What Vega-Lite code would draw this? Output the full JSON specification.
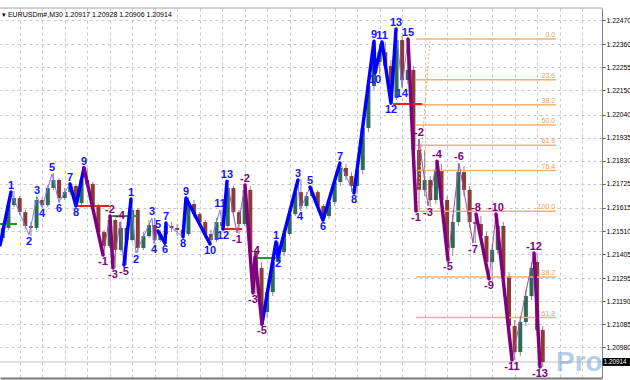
{
"$schema": "https://vega.github.io/schema/vega-lite/v6.json",
"width": 602, "height": 370,
"autosize": {"type": "none"},
"padding": {"left": 0, "top": 8, "right": 28, "bottom": 2},
"background": "#ffffff",
"config": {"view": {"stroke": null}, "font": "Liberation Sans", "axis": {"labelOverlap": false, "labelBound": false}},
"datasets": {
"candles": [
{"b":-6,"o":1.21478,"h":1.21542,"l":1.21460,"c":1.21524},
{"b":-4,"o":1.21524,"h":1.21651,"l":1.21515,"c":1.21628},
{"b":-2,"o":1.21628,"h":1.21692,"l":1.21619,"c":1.21660},
{"b":0,"o":1.21660,"h":1.21669,"l":1.21583,"c":1.21596},
{"b":2,"o":1.21596,"h":1.21606,"l":1.21519,"c":1.21533},
{"b":4,"o":1.21533,"h":1.21551,"l":1.21487,"c":1.21524},
{"b":6,"o":1.21524,"h":1.21669,"l":1.21515,"c":1.21651},
{"b":8,"o":1.21651,"h":1.21665,"l":1.21615,"c":1.21628},
{"b":10,"o":1.21628,"h":1.21719,"l":1.21619,"c":1.21706},
{"b":12,"o":1.21706,"h":1.21774,"l":1.21697,"c":1.21742},
{"b":14,"o":1.21742,"h":1.21751,"l":1.21637,"c":1.21660},
{"b":16,"o":1.21660,"h":1.21706,"l":1.21651,"c":1.21687},
{"b":18,"o":1.21687,"h":1.21728,"l":1.21674,"c":1.21715},
{"b":20,"o":1.21715,"h":1.21724,"l":1.21619,"c":1.21637},
{"b":22,"o":1.21637,"h":1.21760,"l":1.21624,"c":1.21742},
{"b":24,"o":1.21742,"h":1.21797,"l":1.21706,"c":1.21724},
{"b":26,"o":1.21724,"h":1.21733,"l":1.21596,"c":1.21619},
{"b":28,"o":1.21619,"h":1.21633,"l":1.21483,"c":1.21505},
{"b":30,"o":1.21505,"h":1.21515,"l":1.21401,"c":1.21442},
{"b":32,"o":1.21442,"h":1.21583,"l":1.21433,"c":1.21560},
{"b":34,"o":1.21560,"h":1.21569,"l":1.21342,"c":1.21424},
{"b":36,"o":1.21424,"h":1.21555,"l":1.21414,"c":1.21524},
{"b":38,"o":1.21524,"h":1.21533,"l":1.21355,"c":1.21469},
{"b":40,"o":1.21469,"h":1.21656,"l":1.21460,"c":1.21606},
{"b":42,"o":1.21606,"h":1.21615,"l":1.21410,"c":1.21433},
{"b":44,"o":1.21433,"h":1.21505,"l":1.21424,"c":1.21487},
{"b":46,"o":1.21487,"h":1.21560,"l":1.21478,"c":1.21537},
{"b":48,"o":1.21537,"h":1.21572,"l":1.21451,"c":1.21469},
{"b":50,"o":1.21469,"h":1.21515,"l":1.21460,"c":1.21496},
{"b":52,"o":1.21496,"h":1.21551,"l":1.21451,"c":1.21533},
{"b":54,"o":1.21533,"h":1.21551,"l":1.21505,"c":1.21524},
{"b":56,"o":1.21524,"h":1.21542,"l":1.21487,"c":1.21515},
{"b":58,"o":1.21515,"h":1.21533,"l":1.21478,"c":1.21496},
{"b":60,"o":1.21496,"h":1.21665,"l":1.21487,"c":1.21633},
{"b":62,"o":1.21633,"h":1.21651,"l":1.21569,"c":1.21587},
{"b":64,"o":1.21587,"h":1.21596,"l":1.21533,"c":1.21551},
{"b":66,"o":1.21551,"h":1.21560,"l":1.21478,"c":1.21496},
{"b":68,"o":1.21496,"h":1.21515,"l":1.21446,"c":1.21469},
{"b":70,"o":1.21469,"h":1.21569,"l":1.21460,"c":1.21551},
{"b":72,"o":1.21551,"h":1.21610,"l":1.21515,"c":1.21533},
{"b":74,"o":1.21533,"h":1.21740,"l":1.21524,"c":1.21706},
{"b":76,"o":1.21706,"h":1.21715,"l":1.21578,"c":1.21596},
{"b":78,"o":1.21596,"h":1.21606,"l":1.21496,"c":1.21542},
{"b":80,"o":1.21542,"h":1.21724,"l":1.21533,"c":1.21697},
{"b":82,"o":1.21697,"h":1.21715,"l":1.21387,"c":1.21414},
{"b":84,"o":1.21414,"h":1.21424,"l":1.21223,"c":1.21342},
{"b":86,"o":1.21342,"h":1.21369,"l":1.21082,"c":1.21141},
{"b":88,"o":1.21141,"h":1.21251,"l":1.21114,"c":1.21232},
{"b":90,"o":1.21232,"h":1.21387,"l":1.21214,"c":1.21369},
{"b":92,"o":1.21369,"h":1.21460,"l":1.21360,"c":1.21414},
{"b":94,"o":1.21414,"h":1.21515,"l":1.21396,"c":1.21496},
{"b":96,"o":1.21496,"h":1.21615,"l":1.21487,"c":1.21587},
{"b":98,"o":1.21587,"h":1.21706,"l":1.21578,"c":1.21687},
{"b":100,"o":1.21687,"h":1.21747,"l":1.21601,"c":1.21624},
{"b":102,"o":1.21624,"h":1.21687,"l":1.21615,"c":1.21669},
{"b":104,"o":1.21669,"h":1.21715,"l":1.21660,"c":1.21687},
{"b":106,"o":1.21687,"h":1.21697,"l":1.21606,"c":1.21624},
{"b":108,"o":1.21624,"h":1.21633,"l":1.21555,"c":1.21578},
{"b":110,"o":1.21578,"h":1.21660,"l":1.21565,"c":1.21642},
{"b":112,"o":1.21642,"h":1.21751,"l":1.21624,"c":1.21733},
{"b":114,"o":1.21733,"h":1.21824,"l":1.21715,"c":1.21797},
{"b":116,"o":1.21797,"h":1.21815,"l":1.21742,"c":1.21760},
{"b":118,"o":1.21760,"h":1.21778,"l":1.21687,"c":1.21715},
{"b":120,"o":1.21715,"h":1.21806,"l":1.21678,"c":1.21788},
{"b":122,"o":1.21788,"h":1.21997,"l":1.21769,"c":1.21979},
{"b":124,"o":1.21979,"h":1.22197,"l":1.21960,"c":1.22170},
{"b":126,"o":1.22170,"h":1.22379,"l":1.22152,"c":1.22279},
{"b":128,"o":1.22279,"h":1.22361,"l":1.22224,"c":1.22324},
{"b":130,"o":1.22324,"h":1.22370,"l":1.22243,"c":1.22261},
{"b":132,"o":1.22261,"h":1.22288,"l":1.22088,"c":1.22115},
{"b":134,"o":1.22115,"h":1.22434,"l":1.22106,"c":1.22379},
{"b":136,"o":1.22379,"h":1.22397,"l":1.22161,"c":1.22197},
{"b":138,"o":1.22197,"h":1.22384,"l":1.22179,"c":1.22243},
{"b":140,"o":1.22243,"h":1.22261,"l":1.21842,"c":1.21879},
{"b":142,"o":1.21879,"h":1.21929,"l":1.21601,"c":1.21697},
{"b":144,"o":1.21697,"h":1.21879,"l":1.21669,"c":1.21742},
{"b":146,"o":1.21742,"h":1.21760,"l":1.21619,"c":1.21651},
{"b":148,"o":1.21651,"h":1.21824,"l":1.21633,"c":1.21788},
{"b":150,"o":1.21788,"h":1.21815,"l":1.21624,"c":1.21651},
{"b":152,"o":1.21651,"h":1.21669,"l":1.21378,"c":1.21433},
{"b":154,"o":1.21433,"h":1.21587,"l":1.21396,"c":1.21551},
{"b":156,"o":1.21551,"h":1.21815,"l":1.21533,"c":1.21778},
{"b":158,"o":1.21778,"h":1.21806,"l":1.21669,"c":1.21697},
{"b":160,"o":1.21697,"h":1.21715,"l":1.21524,"c":1.21551},
{"b":162,"o":1.21551,"h":1.21587,"l":1.21455,"c":1.21542},
{"b":164,"o":1.21542,"h":1.21578,"l":1.21469,"c":1.21487},
{"b":166,"o":1.21487,"h":1.21505,"l":1.21333,"c":1.21369},
{"b":168,"o":1.21369,"h":1.21451,"l":1.21292,"c":1.21424},
{"b":170,"o":1.21424,"h":1.21587,"l":1.21405,"c":1.21533},
{"b":172,"o":1.21533,"h":1.21551,"l":1.21269,"c":1.21305},
{"b":174,"o":1.21305,"h":1.21323,"l":1.21023,"c":1.21078},
{"b":176,"o":1.21078,"h":1.21105,"l":1.20923,"c":1.20959},
{"b":178,"o":1.20959,"h":1.21123,"l":1.20941,"c":1.21096},
{"b":180,"o":1.21096,"h":1.21242,"l":1.21078,"c":1.21214},
{"b":182,"o":1.21214,"h":1.21369,"l":1.21196,"c":1.21342},
{"b":184,"o":1.21369,"h":1.21410,"l":1.21032,"c":1.21060},
{"b":186,"o":1.21060,"h":1.21078,"l":1.20891,"c":1.20914}
],
"pivots": [
{"t":"1","k":"pos","v":"hi","b":-3.09,"p":1.21687},
{"t":"2","k":"pos","v":"lo","b":3.31,"p":1.21492},
{"t":"3","k":"pos","v":"hi","b":6.16,"p":1.21665},
{"t":"4","k":"pos","v":"lo","b":7.94,"p":1.21619},
{"t":"5","k":"pos","v":"hi","b":11.49,"p":1.21769},
{"t":"6","k":"pos","v":"lo","b":13.98,"p":1.21642},
{"t":"7","k":"pos","v":"hi","b":17.89,"p":1.21724},
{"t":"8","k":"pos","v":"lo","b":20.03,"p":1.21624},
{"t":"9","k":"pos","v":"hi","b":22.87,"p":1.21797},
{"t":"-1","k":"neg","v":"lo","b":29.63,"p":1.21401},
{"t":"-2","k":"neg","v":"hi","b":32.12,"p":1.21578},
{"t":"-3","k":"neg","v":"lo","b":33.18,"p":1.21342},
{"t":"-4","k":"neg","v":"hi","b":35.67,"p":1.21551},
{"t":"-5","k":"neg","v":"lo","b":37.09,"p":1.21355},
{"t":"1","k":"pos","v":"hi","b":39.58,"p":1.21656},
{"t":"2","k":"pos","v":"lo","b":41.36,"p":1.21410},
{"t":"3","k":"pos","v":"hi","b":47.05,"p":1.21569},
{"t":"4","k":"pos","v":"lo","b":47.76,"p":1.21455},
{"t":"5","k":"pos","v":"hi","b":49.18,"p":1.21510},
{"t":"6","k":"pos","v":"lo","b":51.67,"p":1.21455},
{"t":"7","k":"pos","v":"hi","b":52.03,"p":1.21546},
{"t":"8","k":"pos","v":"lo","b":58.07,"p":1.21483},
{"t":"9","k":"pos","v":"hi","b":59.14,"p":1.21660},
{"t":"10","k":"pos","v":"lo","b":67.68,"p":1.21451},
{"t":"11","k":"pos","v":"hi","b":71.23,"p":1.21606},
{"t":"12","k":"pos","v":"lo","b":72.30,"p":1.21519},
{"t":"13","k":"pos","v":"hi","b":73.72,"p":1.21737},
{"t":"-1","k":"neg","v":"lo","b":77.28,"p":1.21501},
{"t":"-2","k":"neg","v":"hi","b":80.12,"p":1.21719},
{"t":"-3","k":"neg","v":"lo","b":82.97,"p":1.21228},
{"t":"-4","k":"neg","v":"hi","b":83.68,"p":1.21392},
{"t":"-5","k":"neg","v":"lo","b":86.17,"p":1.21087},
{"t":"1","k":"pos","v":"hi","b":91.15,"p":1.21460},
{"t":"2","k":"pos","v":"lo","b":91.86,"p":1.21392},
{"t":"3","k":"pos","v":"hi","b":98.97,"p":1.21742},
{"t":"4","k":"pos","v":"lo","b":99.68,"p":1.21606},
{"t":"5","k":"pos","v":"hi","b":103.24,"p":1.21710},
{"t":"6","k":"pos","v":"lo","b":107.86,"p":1.21560},
{"t":"7","k":"pos","v":"hi","b":113.90,"p":1.21819},
{"t":"8","k":"pos","v":"lo","b":118.88,"p":1.21683},
{"t":"9","k":"pos","v":"hi","b":125.99,"p":1.22374},
{"t":"10","k":"pos","v":"lo","b":126.35,"p":1.22229},
{"t":"11","k":"pos","v":"hi","b":128.84,"p":1.22370},
{"t":"12","k":"pos","v":"lo","b":132.04,"p":1.22092},
{"t":"13","k":"pos","v":"hi","b":133.82,"p":1.22429},
{"t":"14","k":"pos","v":"lo","b":135.95,"p":1.22165},
{"t":"15","k":"pos","v":"hi","b":138.08,"p":1.22384},
{"t":"-1","k":"neg","v":"lo","b":140.93,"p":1.21601},
{"t":"-2","k":"neg","v":"hi","b":142.00,"p":1.21929},
{"t":"-3","k":"neg","v":"lo","b":145.20,"p":1.21624},
{"t":"-4","k":"neg","v":"hi","b":148.40,"p":1.21828},
{"t":"-5","k":"neg","v":"lo","b":152.31,"p":1.21378},
{"t":"-6","k":"neg","v":"hi","b":156.22,"p":1.21819},
{"t":"-7","k":"neg","v":"lo","b":161.20,"p":1.21455},
{"t":"-8","k":"neg","v":"hi","b":162.27,"p":1.21587},
{"t":"-9","k":"neg","v":"lo","b":166.89,"p":1.21292},
{"t":"-10","k":"neg","v":"hi","b":169.38,"p":1.21587},
{"t":"-11","k":"neg","v":"lo","b":175.07,"p":1.20923},
{"t":"-12","k":"neg","v":"hi","b":182.89,"p":1.21410},
{"t":"-13","k":"neg","v":"lo","b":185.02,"p":1.20891}
],
"thin": [
{"g":"T1","k":"pos","b":-7,"p":1.21446},{"g":"T1","k":"pos","b":-3.09,"p":1.21687},{"g":"T1","k":"pos","b":3.31,"p":1.21492},{"g":"T1","k":"pos","b":6.16,"p":1.21665},{"g":"T1","k":"pos","b":7.94,"p":1.21619},{"g":"T1","k":"pos","b":11.49,"p":1.21769},{"g":"T1","k":"pos","b":13.98,"p":1.21642},{"g":"T1","k":"pos","b":17.89,"p":1.21724},{"g":"T1","k":"pos","b":20.03,"p":1.21624},{"g":"T1","k":"pos","b":22.87,"p":1.21797},
{"g":"T2","k":"neg","b":22.87,"p":1.21797},{"g":"T2","k":"neg","b":29.63,"p":1.21401},{"g":"T2","k":"neg","b":32.12,"p":1.21578},{"g":"T2","k":"neg","b":33.18,"p":1.21342},{"g":"T2","k":"neg","b":35.67,"p":1.21551},{"g":"T2","k":"neg","b":37.09,"p":1.21355},
{"g":"T3","k":"pos","b":37.09,"p":1.21355},{"g":"T3","k":"pos","b":39.58,"p":1.21656},{"g":"T3","k":"pos","b":41.36,"p":1.21410},{"g":"T3","k":"pos","b":47.05,"p":1.21569},{"g":"T3","k":"pos","b":47.76,"p":1.21455},{"g":"T3","k":"pos","b":49.18,"p":1.21510},{"g":"T3","k":"pos","b":51.67,"p":1.21455},{"g":"T3","k":"pos","b":52.03,"p":1.21546},{"g":"T3","k":"pos","b":58.07,"p":1.21483},{"g":"T3","k":"pos","b":59.14,"p":1.21660},{"g":"T3","k":"pos","b":67.68,"p":1.21451},{"g":"T3","k":"pos","b":71.23,"p":1.21606},{"g":"T3","k":"pos","b":72.30,"p":1.21519},{"g":"T3","k":"pos","b":73.72,"p":1.21737},
{"g":"T4","k":"neg","b":73.72,"p":1.21737},{"g":"T4","k":"neg","b":77.28,"p":1.21501},{"g":"T4","k":"neg","b":80.12,"p":1.21719},{"g":"T4","k":"neg","b":82.97,"p":1.21228},{"g":"T4","k":"neg","b":83.68,"p":1.21392},{"g":"T4","k":"neg","b":86.17,"p":1.21087},
{"g":"T5","k":"pos","b":86.17,"p":1.21087},{"g":"T5","k":"pos","b":91.15,"p":1.21460},{"g":"T5","k":"pos","b":91.86,"p":1.21392},{"g":"T5","k":"pos","b":98.97,"p":1.21742},{"g":"T5","k":"pos","b":99.68,"p":1.21606},{"g":"T5","k":"pos","b":103.24,"p":1.21710},{"g":"T5","k":"pos","b":107.86,"p":1.21560},{"g":"T5","k":"pos","b":113.90,"p":1.21819},{"g":"T5","k":"pos","b":118.88,"p":1.21683},{"g":"T5","k":"pos","b":125.99,"p":1.22374},{"g":"T5","k":"pos","b":126.35,"p":1.22229},{"g":"T5","k":"pos","b":128.84,"p":1.22370},{"g":"T5","k":"pos","b":132.04,"p":1.22092},{"g":"T5","k":"pos","b":133.82,"p":1.22429},{"g":"T5","k":"pos","b":135.95,"p":1.22165},{"g":"T5","k":"pos","b":138.08,"p":1.22384},
{"g":"T6","k":"neg","b":138.08,"p":1.22384},{"g":"T6","k":"neg","b":140.93,"p":1.21601},{"g":"T6","k":"neg","b":142.00,"p":1.21929},{"g":"T6","k":"neg","b":145.20,"p":1.21624},{"g":"T6","k":"neg","b":148.40,"p":1.21828},{"g":"T6","k":"neg","b":152.31,"p":1.21378},{"g":"T6","k":"neg","b":156.22,"p":1.21819},{"g":"T6","k":"neg","b":161.20,"p":1.21455},{"g":"T6","k":"neg","b":162.27,"p":1.21587},{"g":"T6","k":"neg","b":166.89,"p":1.21292},{"g":"T6","k":"neg","b":169.38,"p":1.21587},{"g":"T6","k":"neg","b":175.07,"p":1.20923},{"g":"T6","k":"neg","b":182.89,"p":1.21410},{"g":"T6","k":"neg","b":185.02,"p":1.20891}
],
"thick": [
{"g":"K1","k":"pos","b":-7,"p":1.21446},{"g":"K1","k":"pos","b":-3.09,"p":1.21687},
{"g":"K2","k":"pos","b":17.89,"p":1.21724},{"g":"K2","k":"pos","b":20.03,"p":1.21624},{"g":"K2","k":"pos","b":22.87,"p":1.21797},
{"g":"K3","k":"pos","b":37.09,"p":1.21355},{"g":"K3","k":"pos","b":39.58,"p":1.21656},
{"g":"K4","k":"pos","b":49.18,"p":1.21510},{"g":"K4","k":"pos","b":51.67,"p":1.21455},{"g":"K4","k":"pos","b":52.03,"p":1.21546},
{"g":"K5","k":"pos","b":58.07,"p":1.21483},{"g":"K5","k":"pos","b":59.14,"p":1.21660},{"g":"K5","k":"pos","b":67.68,"p":1.21451},
{"g":"K6","k":"pos","b":72.30,"p":1.21519},{"g":"K6","k":"pos","b":73.72,"p":1.21737},
{"g":"K7","k":"pos","b":86.17,"p":1.21087},{"g":"K7","k":"pos","b":91.15,"p":1.21460},{"g":"K7","k":"pos","b":91.86,"p":1.21392},{"g":"K7","k":"pos","b":98.97,"p":1.21742},
{"g":"K8","k":"pos","b":103.24,"p":1.21710},{"g":"K8","k":"pos","b":107.86,"p":1.21560},{"g":"K8","k":"pos","b":113.90,"p":1.21819},
{"g":"K9","k":"pos","b":118.88,"p":1.21683},{"g":"K9","k":"pos","b":125.99,"p":1.22374},{"g":"K9","k":"pos","b":126.35,"p":1.22229},{"g":"K9","k":"pos","b":128.84,"p":1.22370},{"g":"K9","k":"pos","b":132.04,"p":1.22092},{"g":"K9","k":"pos","b":133.82,"p":1.22429},
{"g":"K10","k":"neg","b":22.87,"p":1.21797},{"g":"K10","k":"neg","b":29.63,"p":1.21401},
{"g":"K11","k":"neg","b":32.12,"p":1.21578},{"g":"K11","k":"neg","b":33.18,"p":1.21342},
{"g":"K12","k":"neg","b":80.12,"p":1.21719},{"g":"K12","k":"neg","b":82.97,"p":1.21228},{"g":"K12","k":"neg","b":83.68,"p":1.21392},{"g":"K12","k":"neg","b":86.17,"p":1.21087},
{"g":"K13","k":"neg","b":138.08,"p":1.22384},{"g":"K13","k":"neg","b":140.93,"p":1.21601},
{"g":"K14","k":"neg","b":148.40,"p":1.21828},{"g":"K14","k":"neg","b":152.31,"p":1.21378},
{"g":"K15","k":"neg","b":162.27,"p":1.21587},{"g":"K15","k":"neg","b":166.89,"p":1.21292},
{"g":"K16","k":"neg","b":169.38,"p":1.21587},{"g":"K16","k":"neg","b":175.07,"p":1.20923},
{"g":"K17","k":"neg","b":182.89,"p":1.21410},{"g":"K17","k":"neg","b":185.02,"p":1.20891}
],
"fib": [
{"lv":"0.0","p":1.22384},{"lv":"23.6","p":1.22199},{"lv":"38.2","p":1.22085},{"lv":"50.0","p":1.21992},{"lv":"61.8","p":1.21900},{"lv":"76.4","p":1.21785},{"lv":"100.0","p":1.21600},{"lv":"138.2","p":1.21301},{"lv":"161.8","p":1.21116}
],
"fibtrend": [{"b":141.3,"p":1.21601},{"b":145.9,"p":1.22379}],
"levels": [
{"k":"g","b0":-7,"b1":-0.95,"p":1.21542},
{"k":"g","b0":32.1,"b1":41.7,"p":1.21578},
{"k":"g","b0":83.7,"b1":92.9,"p":1.21387},
{"k":"r","b0":19.7,"b1":31.8,"p":1.21624},
{"k":"r","b0":72.3,"b1":79.1,"p":1.21519},
{"k":"r","b0":132.8,"b1":143.1,"p":1.22088}
]
},
"layer": [
{"data": {"values": [{"p": 1.20914}]},
 "mark": {"type": "rule", "color": "#c0c0c0", "strokeWidth": 1},
 "encoding": {"y": {"field": "p", "type": "quantitative", "scale": {"domain": [1.20841, 1.22525], "nice": false, "zero": false}, "axis": {"orient": "right", "title": null}}}},
{"data": {"name": "candles"},
 "mark": {"type": "rule", "color": "#8a8a8a", "strokeWidth": 1},
 "encoding": {
  "x": {"field": "b", "type": "quantitative", "scale": {"domain": [-7, 207.07], "nice": false, "zero": false},
   "axis": {"orient": "bottom", "values": [0,8,16,24,32,40,48,56,64,72,80,88,96,104,112,120,128,136,144,152,160,168,176,184,192,200], "tickCount": 40, "labels": false, "ticks": false, "domain": true, "domainColor": "#7a7a7a", "domainWidth": 2, "grid": true, "gridColor": "#c8c8c8", "gridDash": [3,3], "gridWidth": 1, "title": null}},
  "y": {"field": "l", "type": "quantitative", "scale": {"domain": [1.20841, 1.22525], "nice": false, "zero": false},
   "axis": {"orient": "right", "values": [1.2247,1.2236,1.22255,1.2215,1.2204,1.21935,1.2183,1.21725,1.21615,1.2151,1.21405,1.21295,1.2119,1.21085,1.2098], "tickCount": 30, "format": ".5f", "labelFont": "Liberation Sans", "labelFontSize": 6.8, "labelColor": "#000000", "labelPadding": 1, "labelOverlap": false, "labelBound": false, "labelFlush": false, "tickSize": 3, "tickColor": "#555555", "domainColor": "#808080", "domainWidth": 1, "grid": true, "gridColor": "#c8c8c8", "gridDash": [3,3], "gridWidth": 1, "title": null}},
  "y2": {"field": "h"}}},
{"data": {"name": "candles"},
 "mark": {"type": "rule", "strokeWidth": 4, "strokeCap": "butt"},
 "encoding": {
  "x": {"field": "b", "type": "quantitative", "scale": {"domain": [-7, 207.07], "nice": false, "zero": false}, "axis": {"title": null}},
  "y": {"field": "o", "type": "quantitative", "scale": {"domain": [1.20841, 1.22525], "nice": false, "zero": false}, "axis": {"orient": "right", "title": null}},
  "y2": {"field": "c"},
  "color": {"condition": {"test": "datum.c >= datum.o", "value": "#2b6b58"}, "value": "#8b3b35"}}},
{"data": {"name": "fib"},
 "mark": {"type": "rule", "color": "#f7b26a", "strokeWidth": 1.5},
 "encoding": {
  "x": {"datum": 140.93, "type": "quantitative", "scale": {"domain": [-7, 207.07], "nice": false, "zero": false}, "axis": {"title": null}},
  "x2": {"datum": 190.7},
  "y": {"field": "p", "type": "quantitative", "scale": {"domain": [1.20841, 1.22525], "nice": false, "zero": false}, "axis": {"orient": "right", "title": null}}}},
{"data": {"name": "fibtrend"},
 "mark": {"type": "line", "color": "#f5a04a", "strokeWidth": 1, "strokeDash": [2,2]},
 "encoding": {
  "x": {"field": "b", "type": "quantitative", "scale": {"domain": [-7, 207.07], "nice": false, "zero": false}, "axis": {"title": null}},
  "y": {"field": "p", "type": "quantitative", "scale": {"domain": [1.20841, 1.22525], "nice": false, "zero": false}, "axis": {"orient": "right", "title": null}}}},
{"data": {"name": "fib"},
 "mark": {"type": "text", "align": "right", "baseline": "bottom", "dy": -1, "fontSize": 7, "color": "#f0a050", "font": "Liberation Sans"},
 "encoding": {
  "x": {"datum": 190.4, "type": "quantitative", "scale": {"domain": [-7, 207.07], "nice": false, "zero": false}, "axis": {"title": null}},
  "y": {"field": "p", "type": "quantitative", "scale": {"domain": [1.20841, 1.22525], "nice": false, "zero": false}, "axis": {"orient": "right", "title": null}},
  "text": {"field": "lv"}}},
{"data": {"name": "levels"},
 "mark": {"type": "rule", "strokeWidth": 2},
 "encoding": {
  "x": {"field": "b0", "type": "quantitative", "scale": {"domain": [-7, 207.07], "nice": false, "zero": false}, "axis": {"title": null}},
  "x2": {"field": "b1"},
  "y": {"field": "p", "type": "quantitative", "scale": {"domain": [1.20841, 1.22525], "nice": false, "zero": false}, "axis": {"orient": "right", "title": null}},
  "color": {"condition": {"test": "datum.k === 'r'", "value": "#ff1a1a"}, "value": "#1f9a1f"}}},
{"data": {"name": "thin"},
 "mark": {"type": "line", "strokeWidth": 1},
 "encoding": {
  "x": {"field": "b", "type": "quantitative", "scale": {"domain": [-7, 207.07], "nice": false, "zero": false}, "axis": {"title": null}},
  "y": {"field": "p", "type": "quantitative", "scale": {"domain": [1.20841, 1.22525], "nice": false, "zero": false}, "axis": {"orient": "right", "title": null}},
  "detail": {"field": "g"},
  "color": {"condition": {"test": "datum.k === 'pos'", "value": "#7878ff"}, "value": "#a050a0"}}},
{"data": {"name": "thick"},
 "mark": {"type": "line", "strokeWidth": 3.5, "strokeJoin": "round", "strokeCap": "round"},
 "encoding": {
  "x": {"field": "b", "type": "quantitative", "scale": {"domain": [-7, 207.07], "nice": false, "zero": false}, "axis": {"title": null}},
  "y": {"field": "p", "type": "quantitative", "scale": {"domain": [1.20841, 1.22525], "nice": false, "zero": false}, "axis": {"orient": "right", "title": null}},
  "detail": {"field": "g"},
  "color": {"condition": {"test": "datum.k === 'pos'", "value": "#0000ff"}, "value": "#800080"}}},
{"data": {"name": "pivots"},
 "transform": [{"filter": "datum.v === 'hi'"}],
 "mark": {"type": "text", "baseline": "bottom", "align": "center", "dy": -1, "fontSize": 11, "fontWeight": "bold", "font": "Liberation Sans"},
 "encoding": {
  "x": {"field": "b", "type": "quantitative", "scale": {"domain": [-7, 207.07], "nice": false, "zero": false}, "axis": {"title": null}},
  "y": {"field": "p", "type": "quantitative", "scale": {"domain": [1.20841, 1.22525], "nice": false, "zero": false}, "axis": {"orient": "right", "title": null}},
  "text": {"field": "t"},
  "color": {"condition": {"test": "datum.k === 'pos'", "value": "#1414ff"}, "value": "#800080"}}},
{"data": {"name": "pivots"},
 "transform": [{"filter": "datum.v === 'lo'"}],
 "mark": {"type": "text", "baseline": "top", "align": "center", "dy": 1, "fontSize": 11, "fontWeight": "bold", "font": "Liberation Sans"},
 "encoding": {
  "x": {"field": "b", "type": "quantitative", "scale": {"domain": [-7, 207.07], "nice": false, "zero": false}, "axis": {"title": null}},
  "y": {"field": "p", "type": "quantitative", "scale": {"domain": [1.20841, 1.22525], "nice": false, "zero": false}, "axis": {"orient": "right", "title": null}},
  "text": {"field": "t"},
  "color": {"condition": {"test": "datum.k === 'pos'", "value": "#1414ff"}, "value": "#800080"}}},
{"data": {"values": [{"t": "▾ EURUSDm#,M30  1.20917 1.20928 1.20906 1.20914", "b": -7, "p": 1.22493}]},
 "mark": {"type": "text", "align": "left", "baseline": "middle", "dx": 2, "fontSize": 7, "color": "#000000", "font": "Liberation Sans"},
 "encoding": {
  "x": {"field": "b", "type": "quantitative", "scale": {"domain": [-7, 207.07], "nice": false, "zero": false}, "axis": {"title": null}},
  "y": {"field": "p", "type": "quantitative", "scale": {"domain": [1.20841, 1.22525], "nice": false, "zero": false}, "axis": {"orient": "right", "title": null}},
  "text": {"field": "t"}}},
{"data": {"values": [{"t": "Pro", "b": 190.7, "p": 1.20872}]},
 "mark": {"type": "text", "align": "left", "baseline": "alphabetic", "fontSize": 28, "fontWeight": "bold", "color": "#6f9fd0", "opacity": 0.5, "font": "Liberation Sans"},
 "encoding": {
  "x": {"field": "b", "type": "quantitative", "scale": {"domain": [-7, 207.07], "nice": false, "zero": false}, "axis": {"title": null}},
  "y": {"field": "p", "type": "quantitative", "scale": {"domain": [1.20841, 1.22525], "nice": false, "zero": false}, "axis": {"orient": "right", "title": null}},
  "text": {"field": "t"}}},
{"data": {"values": [{"b0": 207.3, "b1": 217.0, "p0": 1.20896, "p1": 1.20932}]},
 "mark": {"type": "rect", "color": "#000000"},
 "encoding": {
  "x": {"field": "b0", "type": "quantitative", "scale": {"domain": [-7, 207.07], "nice": false, "zero": false}, "axis": {"title": null}},
  "x2": {"field": "b1"},
  "y": {"field": "p0", "type": "quantitative", "scale": {"domain": [1.20841, 1.22525], "nice": false, "zero": false}, "axis": {"orient": "right", "title": null}},
  "y2": {"field": "p1"}}},
{"data": {"values": [{"t": "1.20914", "b": 207.3, "p": 1.20914}]},
 "mark": {"type": "text", "align": "left", "baseline": "middle", "dx": 1, "fontSize": 6.3, "color": "#ffffff", "font": "Liberation Sans"},
 "encoding": {
  "x": {"field": "b", "type": "quantitative", "scale": {"domain": [-7, 207.07], "nice": false, "zero": false}, "axis": {"title": null}},
  "y": {"field": "p", "type": "quantitative", "scale": {"domain": [1.20841, 1.22525], "nice": false, "zero": false}, "axis": {"orient": "right", "title": null}},
  "text": {"field": "t"}}},
{"data": {"values": [{"p": 1.22525}]},
 "mark": {"type": "rule", "color": "#a0a0a0", "strokeWidth": 1},
 "encoding": {"y": {"field": "p", "type": "quantitative", "scale": {"domain": [1.20841, 1.22525], "nice": false, "zero": false}, "axis": {"orient": "right", "title": null}}}}
]
}
